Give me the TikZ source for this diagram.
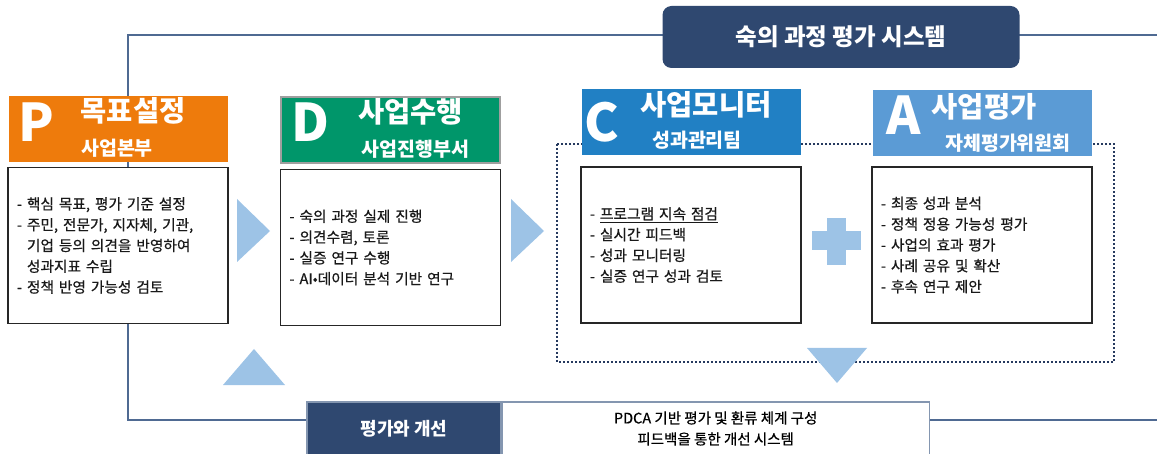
\documentclass[tikz,border=0pt]{standalone}
\usepackage{fontspec}
\setmainfont{Noto Sans CJK KR}
\newfontfamily\bodyfont{Noto Sans CJK KR}[FakeBold=0.6]
\usetikzlibrary{positioning,backgrounds}

\definecolor{planorange}{HTML}{EE7B0C}
\definecolor{dogreen}{HTML}{00966A}
\definecolor{checkblue}{HTML}{2180C4}
\definecolor{actblue}{HTML}{5B9BD5}
\definecolor{navy}{HTML}{2F4870}
\definecolor{framecol}{HTML}{4F6A92}
\definecolor{tricol}{HTML}{9DC3E6}
\definecolor{dotcol}{HTML}{25395E}
\definecolor{edgegray}{HTML}{8496B0}

\begin{document}
\begin{tikzpicture}[x=1pt, y=-1pt,
    head/.style={minimum width=219pt, minimum height=66pt, inner sep=0pt},
    body/.style={draw=black!85, line width=1.3pt, fill=white, minimum width=220pt, minimum height=156pt,
        text width=202pt, align=left, inner xsep=9pt, inner ysep=0pt, text=black!90,
        font=\bodyfont\fontsize{14.7}{20.8}\selectfont},
    letter/.style={text=white, inner sep=0pt, font=\fontsize{52}{52}\selectfont\bfseries},
    title/.style={text=white, inner sep=0pt, font=\fontsize{28.5}{28.5}\selectfont\bfseries},
    sub/.style={text=white, inner sep=0pt, font=\fontsize{19.5}{19.5}\selectfont\bfseries},
    frame/.style={draw=framecol, line width=1.5pt},
    tri/.style={fill=tricol, draw=none}
]
\useasboundingbox (0,0) rectangle (1157,454);

% body boxes
\node[body] (pBody) at (118,245.5) {- 핵심 목표, 평가 기준 설정\\- 주민, 전문가, 지자체, 기관,\\\phantom{-} 기업 등의 의견을 반영하여\\\phantom{-} 성과지표 수립\\- 정책 반영 가능성 검토};
\node[body] (dBody) at (390.5,247.5) {- 숙의 과정 실제 진행\\- 의견수렴, 토론\\- 실증 연구 수행\\- AI•데이터 분석 기반 연구};
\node[body] (cBody) at (691,245) {- \underline{프로그램 지속 점검}\\- 실시간 피드백\\- 성과 모니터링\\- 실증 연구 성과 검토};
\node[body] (aBody) at (982,245) {- 최종 성과 분석\\- 정책 정용 가능성 평가\\- 사업의 효과 평가\\- 사례 공유 및 확산\\- 후속 연구 제안};

% phase headers
\node[head, fill=planorange, above=5pt of pBody] (pHead) {};
\node[head, fill=dogreen, draw=gray!75, line width=1.8pt, above=5pt of dBody] (dHead) {};
\node[head, fill=checkblue, above=11pt of cBody] (cHead) {};
\node[head, fill=actblue, above=10pt of aBody] (aHead) {};

\node[letter] (pLetter) at ([xshift=-82pt,yshift=7pt]pHead.center) {P};
\node[title] (pTitle) at ([xshift=15pt,yshift=18pt]pHead.center) {목표설정};
\node[sub] (pSub) at ([xshift=-1pt,yshift=-20pt]pHead.center) {사업본부};

\node[letter] (dLetter) at ([xshift=-80pt,yshift=8pt]dHead.center) {D};
\node[title] (dTitle) at ([xshift=20pt,yshift=18pt]dHead.center) {사업수행};
\node[sub] (dSub) at ([xshift=25pt,yshift=-19pt]dHead.center) {사업진행부서};

\node[letter] (cLetter) at ([xshift=-89pt,yshift=0pt]cHead.center) {C};
\node[title] (cTitle) at ([xshift=15pt,yshift=17pt]cHead.center) {사업모니터};
\node[sub] (cSub) at ([xshift=6pt,yshift=-18pt]cHead.center) {성과관리팀};

\node[letter] (aLetter) at ([xshift=-78pt,yshift=8pt]aHead.center) {A};
\node[title] (aTitle) at ([xshift=2pt,yshift=16pt]aHead.center) {사업평가};
\node[sub] (aSub) at ([xshift=26pt,yshift=-20pt]aHead.center) {자체평가위원회};

% system title and feedback bar
\node[fill=navy, rounded corners=9pt, minimum width=357pt, minimum height=62pt, text=white,
    font=\fontsize{23.5}{23.5}\selectfont\bfseries] (sysTitle) at (841,37) {숙의 과정 평가 시스템};
\node[fill=navy, draw=edgegray, line width=1.2pt, minimum width=194pt, minimum height=53pt, text=white,
    font=\fontsize{18}{18}\selectfont\bfseries] (evalBox) at (404,428.5) {평가와 개선};
\node[fill=white, draw=edgegray, line width=1.2pt, minimum width=427pt, minimum height=53pt, align=center,
    font=\bodyfont\fontsize{14.5}{21}\selectfont, right=0pt of evalBox] (pdcaBox) {PDCA 기반 평가 및 환류 체계 구성\\피드백을 통한 개선 시스템};

% arrows and plus
\fill[tri] (237,199) -- (270,231) -- (237,262) -- cycle;
\fill[tri] (511,199) -- (544,231) -- (511,262) -- cycle;
\fill[tri] (223,385) -- (254,349) -- (285,385) -- cycle;
\fill[tri] (807,348) -- (837,383) -- (867,348) -- cycle;
\fill[tri] (827,218) rectangle (846,265);
\fill[tri] (812,231) rectangle (861,250);

\begin{scope}[on background layer]
\coordinate (topL) at (128,35);
\coordinate (topR) at (1157,35);
\coordinate (botL) at (128,420);
\coordinate (botR) at (1157,420);
\draw[frame] (topR) -- (topL) -- (botL) -- (botL -| evalBox.west);
\draw[frame] (pdcaBox.east |- botR) -- (botR);
\draw[draw=dotcol, line width=2pt, dash pattern=on 2pt off 2pt] (557,144) rectangle (1114,362);
\end{scope}
\end{tikzpicture}
\end{document}
